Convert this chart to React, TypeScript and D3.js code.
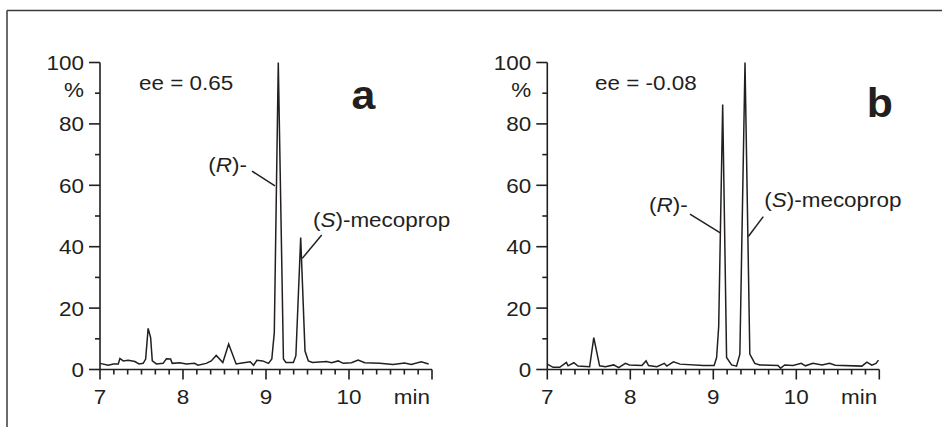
import * as d3 from 'd3'

const W = 942
const H = 427

// retention time (min) and relative signal (%) for chromatogram a
const TIME_A = [
  7.0, 7.1, 7.16, 7.22, 7.24, 7.28, 7.34, 7.42, 7.47, 7.52, 7.55, 7.58, 7.61, 7.63, 7.68,
  7.76, 7.8, 7.85, 7.87, 7.96, 8.04, 8.14, 8.18, 8.28, 8.34, 8.4, 8.48, 8.55, 8.64, 8.73,
  8.81, 8.85, 8.89, 8.96, 9.03, 9.07, 9.1, 9.148, 9.21, 9.24, 9.33, 9.36, 9.418, 9.47, 9.51,
  9.56, 9.73, 9.79, 9.87, 9.93, 10.03, 10.11, 10.19, 10.37, 10.53, 10.67, 10.75, 10.87, 10.96
]
const SIGNAL_A = [
  2.0, 1.4, 1.8, 1.8, 3.6, 2.8, 3.0, 2.6, 1.8, 2.0, 3.4, 13.4, 10.4, 2.8, 1.8,
  2.0, 3.5, 3.4, 2.0, 2.2, 1.8, 2.0, 1.4, 2.0, 2.8, 4.6, 2.3, 8.3, 1.8, 2.2,
  2.5, 1.4, 3.0, 2.8, 2.0, 3.4, 12, 100, 3.4, 2.3, 2.3, 4.5, 43, 6, 2.8,
  2.3, 2.6, 2.2, 2.8, 2.0, 2.2, 3.1, 2.2, 2.0, 1.6, 2.1, 1.6, 2.5, 1.8
]

// chromatogram b
const TIME_B = [
  7.0, 7.07, 7.15, 7.23, 7.25, 7.32, 7.37, 7.51, 7.56, 7.63, 7.7, 7.8, 7.86, 7.94, 7.99,
  8.14, 8.19, 8.22, 8.32, 8.41, 8.44, 8.52, 8.6, 8.88, 9.01, 9.04, 9.065, 9.113, 9.16, 9.22,
  9.28, 9.32, 9.382, 9.44, 9.5, 9.56, 9.78, 9.81, 9.86, 9.96, 10.06, 10.11, 10.2, 10.31, 10.4,
  10.47, 10.79, 10.85, 10.91, 10.96, 10.99
]
const SIGNAL_B = [
  1.75, 0.7, 0.7, 2.3, 1.2, 2.2, 1.1, 0.9, 10.4, 1.2, 0.9, 1.5, 0.6, 2.0, 1.5,
  1.3, 2.8, 1.3, 0.9, 2.0, 1.1, 2.5, 1.75, 1.3, 1.3, 3.9, 14, 86.3, 3.9, 1.5,
  1.1, 5.0, 100, 5.0, 2.0, 1.5, 1.3, 0.4, 1.5, 1.3, 2.0, 1.2, 2.0, 1.5, 2.0,
  1.4, 1.1, 2.4, 1.4, 2.0, 3.05
]

const X_TICKS = [7, 8, 9, 10]
const Y_TICKS = [0, 20, 40, 60, 80, 100]

type Panel = {
  left: number
  time: number[]
  signal: number[]
  ee: string
  letter: string
  letterAt: [number, number]
  eeAt: [number, number]
  rAt: [number, number]
  rLine: [number, number, number, number]
  sAt: [number, number]
  sLine: [number, number, number, number]
}

const PANELS: Panel[] = [
  {
    left: 100, time: TIME_A, signal: SIGNAL_A, ee: 'ee = 0.65', letter: 'a',
    letterAt: [10.03, 85.0], eeAt: [7.47, 91.2],
    rAt: [8.305, 64.4], rLine: [8.831, 64.6, 9.108, 59.8],
    sAt: [9.566, 46.5], sLine: [9.671, 43.8, 9.437, 36.2],
  },
  {
    left: 547.3, time: TIME_B, signal: SIGNAL_B, ee: 'ee = -0.08', letter: 'b',
    letterAt: [10.85, 82.3], eeAt: [7.575, 91.2],
    rAt: [8.225, 51.4], rLine: [8.719, 50.6, 9.089, 44.4],
    sAt: [9.614, 52.8], sLine: [9.602, 49.8, 9.422, 43.3],
  },
]

const INK = '#231f20'
const FONT = '"Liberation Sans", Arial, Helvetica, sans-serif'
const STRETCH = 1.07

function T({ x, y, size = 21, anchor = 'start', weight = 'normal', children }: any) {
  return (
    <text
      transform={`translate(${x},${y}) scale(${STRETCH},1)`}
      fontSize={size}
      fontWeight={weight}
      textAnchor={anchor}
      fontFamily={FONT}
      fill={INK}
    >
      {children}
    </text>
  )
}

function Chromatogram({ p }: { p: Panel }) {
  const x = d3.scaleLinear().domain([7, 11]).range([p.left, p.left + 332])
  const y = d3.scaleLinear().domain([0, 100]).range([369.5, 62.5])
  const pts = p.time.map((t, i) => [t, p.signal[i]] as [number, number])
  const line = d3.line<[number, number]>().x(d => x(d[0])).y(d => y(d[1]))
  const minorX = d3.range(7, 11.001, 1 / 6)
  const minorY = d3.range(10, 100, 20)

  return (
    <g>
      {/* axes */}
      <line x1={x(7)} x2={x(7)} y1={y(100)} y2={y(0)} stroke={INK} strokeWidth={1.6} />
      <line x1={x(7)} x2={x(11)} y1={y(0)} y2={y(0)} stroke={INK} strokeWidth={1.6} />
      {Y_TICKS.map(v => (
        <g key={v}>
          <line x1={x(7) - 11} x2={x(7)} y1={y(v)} y2={y(v)} stroke={INK} strokeWidth={1.6} />
          <T x={x(7) - 16} y={y(v) + 7.5} anchor="end">{v}</T>
        </g>
      ))}
      {minorY.map(v => (
        <line key={v} x1={x(7) - 5} x2={x(7)} y1={y(v)} y2={y(v)} stroke={INK} strokeWidth={1.6} />
      ))}
      <T x={x(7) - 16} y={97} anchor="end">%</T>
      {minorX.map((t, i) => (
        <line key={i} x1={x(t)} x2={x(t)} y1={y(0)} y2={y(0) + (i % 6 === 0 || i === 24 ? 10 : 5)}
          stroke={INK} strokeWidth={1.6} />
      ))}
      {X_TICKS.map(t => (
        <T key={t} x={x(t)} y={403.5} anchor="middle">{t}</T>
      ))}
      <T x={x(11) - 2} y={403.5} anchor="end">min</T>

      {/* trace */}
      <path d={line(pts) ?? ''} fill="none" stroke={INK} strokeWidth={1.5} strokeLinejoin="miter" />

      {/* annotations */}
      <T x={x(p.eeAt[0])} y={y(p.eeAt[1])}>{p.ee}</T>
      <T x={x(p.letterAt[0])} y={y(p.letterAt[1])} size={40} weight="bold">{p.letter}</T>
      <T x={x(p.rAt[0])} y={y(p.rAt[1])}>(<tspan fontStyle="italic">R</tspan>)-</T>
      <T x={x(p.sAt[0])} y={y(p.sAt[1])}>(<tspan fontStyle="italic">S</tspan>)-mecoprop</T>
      <line x1={x(p.rLine[0])} y1={y(p.rLine[1])} x2={x(p.rLine[2])} y2={y(p.rLine[3])}
        stroke={INK} strokeWidth={1.5} />
      <line x1={x(p.sLine[0])} y1={y(p.sLine[1])} x2={x(p.sLine[2])} y2={y(p.sLine[3])}
        stroke={INK} strokeWidth={1.5} />
    </g>
  )
}

export default function App() {
  return (
    <svg width={W} height={H} style={{ position: 'absolute', left: 0, top: 0, background: '#fff' }}>
      {/* outer frame, cut off at right and bottom */}
      <line x1={7} x2={W} y1={10.5} y2={10.5} stroke="#3a3a3a" strokeWidth={1.5} />
      <line x1={7} x2={7} y1={10.5} y2={H} stroke="#3a3a3a" strokeWidth={1.5} />
      {PANELS.map(p => <Chromatogram key={p.letter} p={p} />)}
    </svg>
  )
}
